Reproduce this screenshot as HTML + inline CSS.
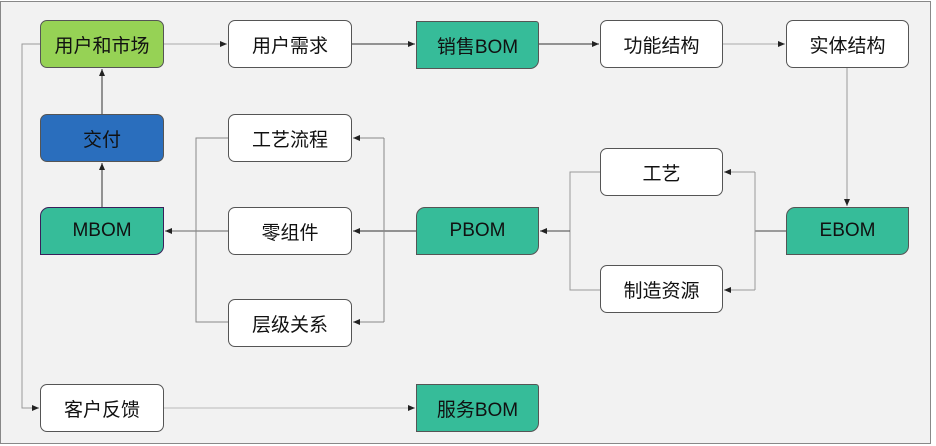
<!DOCTYPE html>
<html><head><meta charset="utf-8"><style>
body{margin:0;background:#fff;}
.wrap{position:relative;width:936px;height:446px;overflow:hidden;}
.n{position:absolute;box-sizing:border-box;border:1px solid #555;border-radius:7px;background:#fff;display:flex;align-items:center;justify-content:center;font-family:"Liberation Sans","Noto Sans CJK SC",sans-serif;font-size:19px;color:#111;}
.t{background:#36bc99;border-radius:0 3px 9px 0;}
.t2{background:#36bc99;border-radius:9px 0 9px 0;}
svg{position:absolute;left:0;top:0;}
</style></head><body><div class="wrap">
<svg width="936" height="446">
<defs><marker id="a" markerWidth="8" markerHeight="8" refX="7" refY="4" orient="auto" markerUnits="userSpaceOnUse"><path d="M0,1 L7,4 L0,7z" fill="#222"/></marker></defs>
<rect x="0.5" y="1.5" width="930" height="442" fill="#f2f2f2" stroke="#888"/>
<g fill="none" stroke-width="1">
<path d="M40,44 H22 V408 H39" stroke="#999" marker-end="url(#a)"/>
<path d="M164,44 H227" stroke="#aaa" marker-end="url(#a)"/>
<path d="M352,44 H415" stroke="#333" marker-end="url(#a)"/>
<path d="M539,44 H599" stroke="#333" marker-end="url(#a)"/>
<path d="M723,44 H785" stroke="#aaa" marker-end="url(#a)"/>
<path d="M847,68 V206" stroke="#999" marker-end="url(#a)"/>
<path d="M786,231 H755" stroke="#444"/>
<path d="M755,172 V290" stroke="#999"/>
<path d="M755,172 H724" stroke="#999" marker-end="url(#a)"/>
<path d="M755,290 H724" stroke="#999" marker-end="url(#a)"/>
<path d="M600,172 H570 V290 H600" stroke="#999"/>
<path d="M570,231 H540" stroke="#444" marker-end="url(#a)"/>
<path d="M416,231 H353" stroke="#333" marker-end="url(#a)"/>
<path d="M228,231 H165" stroke="#666" marker-end="url(#a)"/>
<path d="M228,138 H196 V322 H228" stroke="#888"/>
<path d="M384,138 V322" stroke="#888"/>
<path d="M384,138 H353" stroke="#888" marker-end="url(#a)"/>
<path d="M384,322 H353" stroke="#888" marker-end="url(#a)"/>
<path d="M102,207 V163" stroke="#333" marker-end="url(#a)"/>
<path d="M102,114 V69" stroke="#333" marker-end="url(#a)"/>
<path d="M164,408 H415" stroke="#bbb" marker-end="url(#a)"/>
</g></svg>
<div class="n" style="left:40px;top:20px;width:124px;height:48px;background:#96d255;">用户和市场</div>
<div class="n" style="left:228px;top:20px;width:124px;height:48px;">用户需求</div>
<div class="n t" style="left:416px;top:21px;width:123px;height:48px;">销售BOM</div>
<div class="n" style="left:600px;top:20px;width:123px;height:48px;">功能结构</div>
<div class="n" style="left:786px;top:20px;width:123px;height:48px;">实体结构</div>
<div class="n" style="left:40px;top:114px;width:124px;height:48px;background:#2a6ebd;">交付</div>
<div class="n" style="left:228px;top:114px;width:124px;height:48px;">工艺流程</div>
<div class="n" style="left:600px;top:148px;width:123px;height:48px;">工艺</div>
<div class="n t2" style="left:40px;top:207px;width:124px;height:48px;border-color:#3a1f5a;">MBOM</div>
<div class="n" style="left:228px;top:207px;width:124px;height:48px;">零组件</div>
<div class="n t2" style="left:416px;top:207px;width:123px;height:48px;">PBOM</div>
<div class="n t2" style="left:786px;top:207px;width:123px;height:48px;">EBOM</div>
<div class="n" style="left:600px;top:265px;width:123px;height:48px;">制造资源</div>
<div class="n" style="left:228px;top:299px;width:124px;height:48px;">层级关系</div>
<div class="n" style="left:40px;top:384px;width:124px;height:48px;">客户反馈</div>
<div class="n t" style="left:416px;top:384px;width:123px;height:48px;">服务BOM</div>
</div></body></html>
